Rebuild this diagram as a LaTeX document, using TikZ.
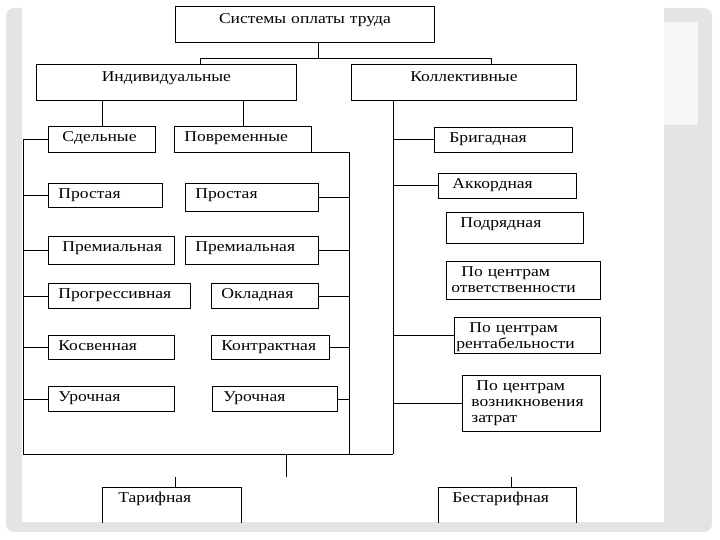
\documentclass[tikz,border=0pt]{standalone}
\usepackage{fontspec}
\setmainfont[FakeStretch=1.17]{Liberation Serif}
\definecolor{framegray}{HTML}{E4E4E4}
\definecolor{panelgray}{HTML}{F6F6F6}

\begin{document}
\begin{tikzpicture}[x=1pt,y=-1pt,line width=0.8pt,
	every node/.style={font=\fontsize{15}{16}\selectfont},
	cell/.style n args={3}{draw, anchor=north west, inner ysep=0pt, inner xsep=#3,
		minimum width=#1, text width={#1-2*#3}, text height=15, text depth={#2-15}, align=left},
	head/.style 2 args={cell={#1}{#2}{4}, text height=17, text depth={#2-17}, align=center}]
	\useasboundingbox (0,0) rectangle (720,540);
	\fill[framegray, rounded corners=8pt] (6,8) rectangle (712,532);
	\fill[white] (22,0) rectangle (664,522);
	\fill[panelgray] (664,22) rectangle (698,125);

	\begin{scope}
	\clip (0,0) rectangle (720,522);
	\node[head={259}{36}] (sys) at (175,6) {Системы оплаты труда};
	\node[head={260}{36}] (ind) at (36,64) {Индивидуальные};
	\node[head={225}{36}] (kol) at (351,64) {Коллективные};

	\node[cell={107}{26}{14}] (sdel) at (48,126) {Сдельные};
	\node[cell={137}{26}{10}] (povr) at (174,126) {Повременные};

	\node[cell={114}{24}{10}] (s1) at (48,183) {Простая};
	\node[cell={126}{28}{14}] (s2) at (48,236) {Премиальная};
	\node[cell={142}{25}{10}] (s3) at (48,283) {Прогрессивная};
	\node[cell={126}{24}{10}] (s4) at (48,335) {Косвенная};
	\node[cell={126}{25}{10}] (s5) at (48,386) {Урочная};

	\node[cell={133}{28}{10}] (p1) at (185,183) {Простая};
	\node[cell={133}{28}{10}] (p2) at (185,236) {Премиальная};
	\node[cell={107}{25}{10}] (p3) at (211,283) {Окладная};
	\node[cell={118}{24}{10}] (p4) at (211,335) {Контрактная};
	\node[cell={125}{25}{11}] (p5) at (212,386) {Урочная};

	\node[cell={138}{25}{15}] (k1) at (434,127) {Бригадная};
	\node[cell={138}{25}{14}] (k2) at (438,173) {Аккордная};
	\node[cell={137}{31}{14}] (k3) at (446,212) {Подрядная};
	\node[cell={154}{38}{5}] (k4) at (446,261) {\hspace*{10pt}По центрам\\ответственности};
	\node[cell={146}{36}{2}] (k5) at (454,317) {\hspace*{13pt}По центрам\\рентабельности};
	\node[cell={138}{56}{9}] (k6) at (462,375) {\hspace*{5pt}По центрам\\возникновения\\затрат};

	\node[cell={139}{50}{16}] (tar) at (102,487) {Тарифная};
	\node[cell={138}{50}{14}] (best) at (438,487) {Бестарифная};

	\coordinate (split) at (318,58);
	\coordinate (jl) at (200,58);
	\coordinate (jr) at (491,58);
	\coordinate (lb) at (23,454);
	\coordinate (rx) at (349,454);
	\coordinate (kx) at (393,454);
	\coordinate (drop) at (286,477);
	\coordinate (tt) at (175,477);
	\coordinate (bt) at (511,477);

	\draw (sys.south -| split) -- (split);
	\draw (ind.north -| jl) -- (jl) -- (jr) -- (kol.north -| jr);
	\draw (sdel.north) -- (sdel.north |- ind.south);
	\draw (povr.north) -- (povr.north |- ind.south);

	\draw (sdel.west) -- (sdel.west -| lb) -- (lb) -- (kx);
	\draw (povr.south east) -- (povr.south east -| rx) -- (rx);
	\draw (kol.south -| kx) -- (kx);
	\foreach \n in {s1,s2,s3,s4,s5}
		\draw (\n.west) -- (\n.west -| lb);
	\foreach \n in {p1,p2,p3,p4,p5}
		\draw (\n.east) -- (\n.east -| rx);
	\foreach \n in {k1,k2,k5,k6}
		\draw (\n.west) -- (\n.west -| kx);

	\draw (drop |- lb) -- (drop);
	\draw (tt) -- (tt |- tar.north);
	\draw (bt) -- (bt |- best.north);
	\end{scope}
\end{tikzpicture}
\end{document}
